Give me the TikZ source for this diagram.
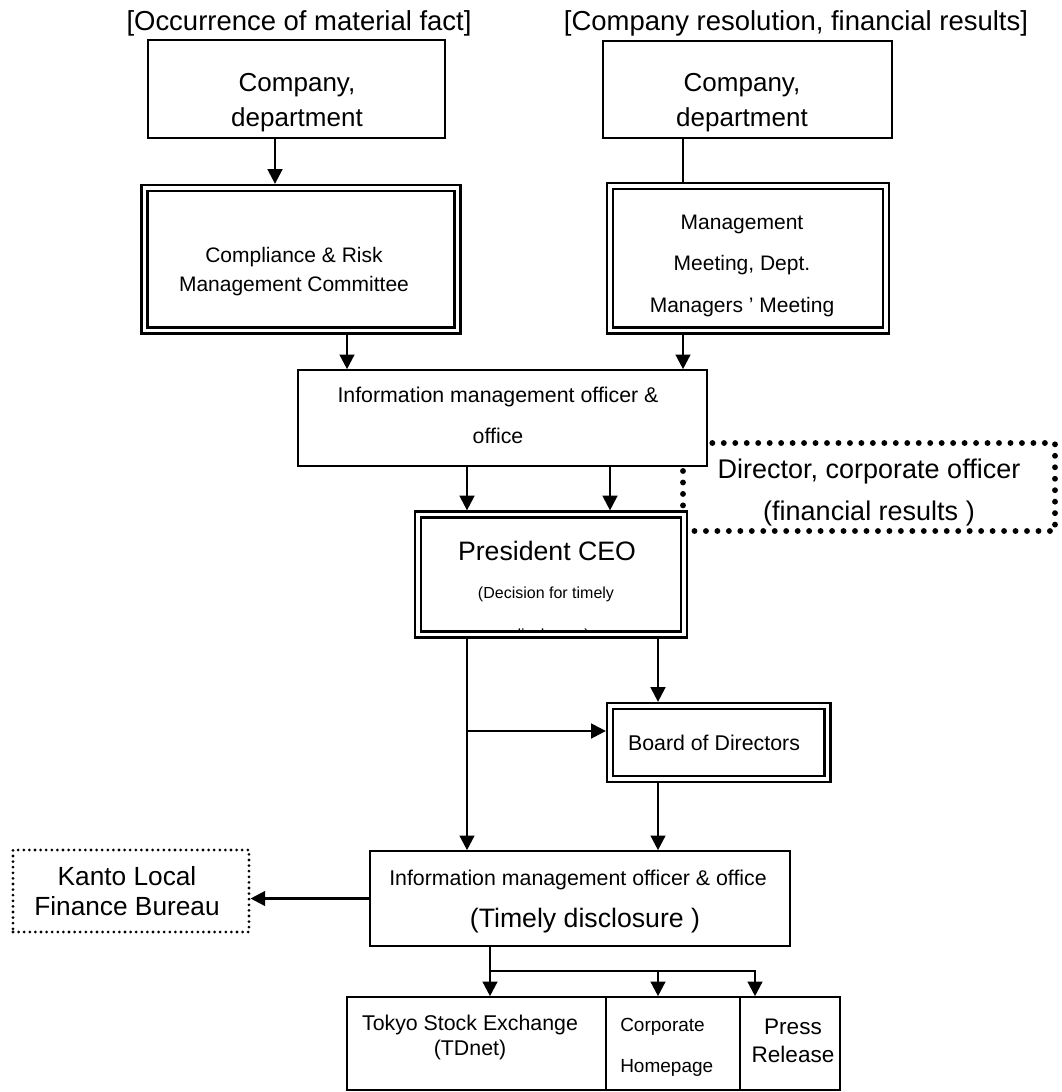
\documentclass[tikz,border=0pt]{standalone}
\usepackage{fontspec}
\setmainfont{Liberation Sans}
\usetikzlibrary{arrows.meta}
\newdimen\pxu \pxu=0.75pt

\begin{document}
\begin{tikzpicture}[x=0.75pt,y=-0.75pt,
	plainbox/.style={draw,line width=1.2pt,fill=white,inner sep=0pt},
	dblbox/.style={draw,double,double distance=2.6pt,line width=1.8pt,fill=white,inner sep=0pt,outer sep=3.1pt},
	bigdots/.style={draw,line width=4.4pt,line cap=round,dash pattern=on 0pt off 8.6pt,inner sep=0pt},
	smalldots/.style={draw,line width=2.3pt,line cap=round,dash pattern=on 0pt off 4.2pt,inner sep=0pt},
	txt/.style={inner sep=0pt,align=center,anchor=north},
	one/.style={inner sep=0pt,anchor=base},
	arr/.style={-{Triangle[length=11pt,width=11pt]},line width=1.8pt},
	link/.style={line width=1.8pt}]
	\useasboundingbox (0,0) rectangle (1061,1092);
	% columns of the connectors
	\coordinate (c1) at (275,0);
	\coordinate (c2) at (683,0);
	\coordinate (c3) at (347,0);
	\coordinate (c4) at (467,0);
	\coordinate (c5) at (610,0);
	\coordinate (c6) at (658,0);
	\coordinate (c7) at (490,0);
	\coordinate (c8) at (755,0);
	\coordinate (j1) at (467,731);
	\coordinate (j2) at (490,971);
	% dotted box behind the office and the CEO
	\node[bigdots,minimum width=372\pxu,minimum height=88\pxu] (dir) at (869,487) {};
	\node[txt,font=\fontsize{20.25pt}{31.5pt}\selectfont] at (869,458.3) {Director, corporate officer\\(financial results )};
	% headings
	\node[one,font=\fontsize{20.6pt}{24pt}\selectfont] (occ) at (299,30) {[Occurrence of material fact]};
	\node[one,font=\fontsize{20.6pt}{24pt}\selectfont] (res) at (796,30) {[Company resolution, financial results]};
	% top row
	\node[plainbox,minimum width=297\pxu,minimum height=98\pxu] (dept1) at (296.5,89) {};
	\node[txt,font=\fontsize{19.5pt}{26.25pt}\selectfont] at (297,73) {Company,\\department};
	\node[plainbox,minimum width=289\pxu,minimum height=97\pxu] (dept2) at (747.5,89.5) {};
	\node[txt,font=\fontsize{19.5pt}{26.25pt}\selectfont] at (742,73) {Company,\\department};
	\node[dblbox,minimum width=313\pxu,minimum height=142.5\pxu] (crm) at (301,259.25) {};
	\node[txt,font=\fontsize{15.75pt}{22.1pt}\selectfont] at (294,246.7) {Compliance \& Risk\\Management Committee};
	\node[dblbox,minimum width=276\pxu,minimum height=144.5\pxu] (mgmt) at (748,258.25) {};
	\node[txt,font=\fontsize{15.75pt}{31.1pt}\selectfont] at (742,214.7) {Management\\Meeting, Dept.\\Managers ’ Meeting};
	% middle
	\node[plainbox,minimum width=409\pxu,minimum height=96\pxu] (imo1) at (502.5,418) {};
	\node[txt,font=\fontsize{16pt}{30.75pt}\selectfont] at (498,386.4) {Information management officer \&\\office};
	\node[dblbox,minimum width=266\pxu,minimum height=120\pxu] (ceo) at (551,574.5) {};
	\node[one,font=\fontsize{20pt}{24pt}\selectfont] at (547,560) {President CEO};
	\node[one,font=\fontsize{12pt}{14pt}\selectfont] at (546,598) {(Decision for timely};
	\begin{scope}
		\clip (421,517) rectangle (681,630);
		\node[one,font=\fontsize{12pt}{14pt}\selectfont] at (551,640) {disclosure)};
	\end{scope}
	\node[dblbox,minimum width=217.5\pxu,minimum height=73\pxu] (board) at (718.75,742.5) {};
	\node[one,font=\fontsize{16pt}{19pt}\selectfont] at (714,750) {Board of Directors};
	\node[plainbox,minimum width=420\pxu,minimum height=95\pxu] (imo2) at (580,898.5) {};
	\node[one,font=\fontsize{16pt}{19pt}\selectfont] at (578,885) {Information management officer \& office};
	\node[one,font=\fontsize{20pt}{24pt}\selectfont] at (585,927) {(Timely disclosure )};
	\node[smalldots,minimum width=236\pxu,minimum height=82\pxu] (kanto) at (131,891) {};
	\node[txt,font=\fontsize{19.7pt}{22.5pt}\selectfont] at (127,865.8) {Kanto Local\\Finance Bureau};
	% bottom row
	\node[plainbox,minimum width=259\pxu,minimum height=93\pxu] (tse) at (476.5,1043.5) {};
	\node[txt,font=\fontsize{16pt}{18.75pt}\selectfont] at (470,1014.4) {Tokyo Stock Exchange\\(TDnet)};
	\node[plainbox,minimum width=134\pxu,minimum height=93\pxu] (web) at (673,1043.5) {};
	\node[txt,anchor=north west,align=left,font=\fontsize{14.25pt}{30.75pt}\selectfont] at (620,1018.1) {Corporate\\Homepage};
	\node[plainbox,minimum width=100\pxu,minimum height=93\pxu] (press) at (790,1043.5) {};
	\node[txt,font=\fontsize{16.9pt}{21pt}\selectfont] at (793,1018.6) {Press\\Release};
	% connectors
	\draw[arr] (dept1.south -| c1) -- (crm.north -| c1);
	\draw[link] (dept2.south -| c2) -- (mgmt.north -| c2);
	\draw[arr] (crm.south -| c3) -- (imo1.north -| c3);
	\draw[arr] (mgmt.south -| c2) -- (imo1.north -| c2);
	\draw[arr] (imo1.south -| c4) -- (ceo.north -| c4);
	\draw[arr] (imo1.south -| c5) -- (ceo.north -| c5);
	\draw[arr] (ceo.south -| c6) -- (board.north -| c6);
	\draw[arr] (ceo.south -| c4) -- (imo2.north -| c4);
	\draw[arr] (j1) -- (j1 -| board.west);
	\draw[arr] (board.south -| c6) -- (imo2.north -| c6);
	\draw[arr] (imo2.west) -- (imo2.west -| kanto.east);
	\draw[arr] (imo2.south -| c7) -- (tse.north -| c7);
	\draw[arr] (j2) -| (web.north -| c6);
	\draw[arr] (j2) -| (press.north -| c8);
\end{tikzpicture}
\end{document}
